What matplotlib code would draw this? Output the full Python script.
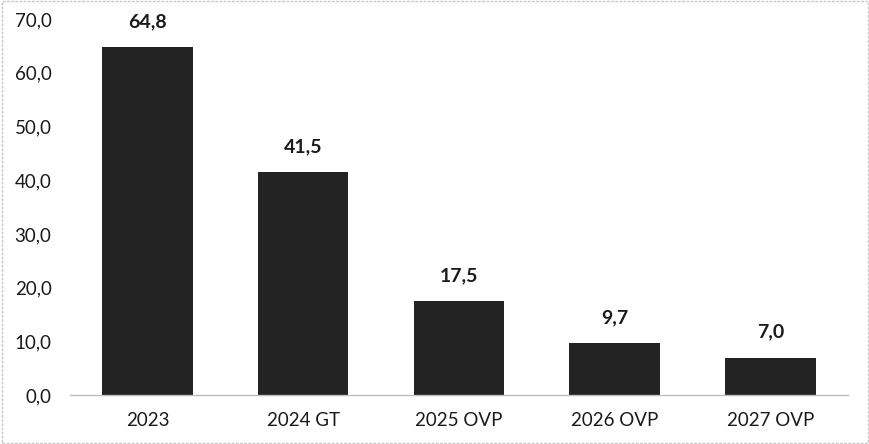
import matplotlib
matplotlib.use("Agg")
import matplotlib.pyplot as plt
from matplotlib.patches import Rectangle

plt.rcParams['font.family'] = ['Lato', 'DejaVu Sans']

categories = ["2023", "2024 GT", "2025 OVP", "2026 OVP", "2027 OVP"]
values = [64.8, 41.5, 17.5, 9.7, 7.0]
yticks = [0, 10, 20, 30, 40, 50, 60, 70]


def fmt(v):
    return f"{v:.1f}".replace(".", ",")


fig = plt.figure(figsize=(8.7, 4.44), dpi=100)
ax = fig.add_axes([0.080, 0.110, 0.895, 0.847])

x = range(len(categories))
bars = ax.bar(x, values, width=0.58, color="#232323")

for b, v in zip(bars, values):
    ax.text(b.get_x() + b.get_width() / 2, v + 3.2, fmt(v),
            ha="center", va="bottom", fontsize=14, fontweight="bold", color="#1a1a1a")

ax.set_xlim(-0.5, len(categories) - 0.5)
ax.set_ylim(0, 70)
ax.set_yticks(yticks)
ax.set_yticklabels([fmt(t) for t in yticks])
ax.set_xticks(list(x))
ax.set_xticklabels(categories)
ax.tick_params(axis="both", length=0, labelsize=13.5, colors="#1a1a1a")
ax.tick_params(axis="x", pad=12)
ax.tick_params(axis="y", pad=13)

for s in ["top", "right", "left"]:
    ax.spines[s].set_visible(False)
ax.spines["bottom"].set_color("#bdbdbd")
ax.spines["bottom"].set_linewidth(1)

# light frame around the whole chart
fig.patches.append(Rectangle((0.002, 0.003), 0.996, 0.994, transform=fig.transFigure,
                             fill=False, edgecolor="#c8c8c8", linewidth=1, linestyle=(0, (2, 1))))

fig.savefig("out.png", dpi=100)
